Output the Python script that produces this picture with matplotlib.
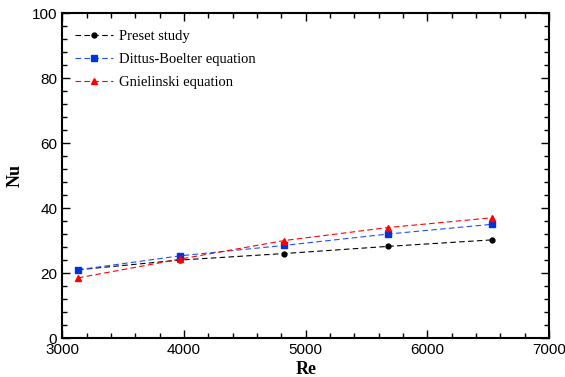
import numpy as np
import matplotlib
matplotlib.use("Agg")
import matplotlib.pyplot as plt
from matplotlib.ticker import MultipleLocator

# data
re_vals = [3130, 3970, 4825, 5677, 6532]
nu_preset = [21.0, 24.0, 26.0, 28.2, 30.2]
nu_dittus = [21.0, 25.3, 28.5, 32.0, 35.0]
nu_gniel = [18.5, 24.3, 30.0, 34.0, 37.0]

fig = plt.figure(figsize=(5.65, 3.77), dpi=100)
ax = fig.add_axes([0.110, 0.1034, 0.862, 0.862])

ax.plot(re_vals, nu_preset, color="black", ls=(0, (5, 3)), lw=0.8,
        marker="o", ms=3.5, label="Preset study")
ax.plot(re_vals, nu_dittus, color="#1f4fff", ls=(0, (5, 3)), lw=0.8,
        marker="s", ms=4.5, mfc="#0033dd", mec="#0033dd", label="Dittus-Boelter equation")
ax.plot(re_vals, nu_gniel, color="red", ls=(0, (5, 3)), lw=0.8,
        marker="^", ms=5, label="Gnielinski equation")

ax.set_xlim(3000, 7000)
ax.set_ylim(0, 100)
ax.xaxis.set_major_locator(MultipleLocator(1000))
ax.xaxis.set_minor_locator(MultipleLocator(200))
ax.yaxis.set_major_locator(MultipleLocator(20))
ax.yaxis.set_minor_locator(MultipleLocator(4))
ax.tick_params(which="both", direction="in", top=True, right=True, width=1)
ax.tick_params(which="major", length=6, labelsize=11)
ax.tick_params(which="minor", length=3.5)
for lab in ax.get_xticklabels() + ax.get_yticklabels():
    lab.set_family("Liberation Sans")
for s in ax.spines.values():
    s.set_linewidth(1.5)

ax.set_xlabel("Re", family="Liberation Serif", fontweight="bold", fontsize=13, labelpad=3)
ax.set_ylabel("Nu", family="Liberation Serif", fontweight="bold", fontsize=13, labelpad=6)

ax.legend(loc="upper left", bbox_to_anchor=(0.0, 0.99), frameon=False,
          prop={"family": "Liberation Serif", "size": 10.5},
          handlelength=2.6, handletextpad=0.4, borderaxespad=0.5, labelspacing=0.7)

fig.savefig("out.png", dpi=100)
